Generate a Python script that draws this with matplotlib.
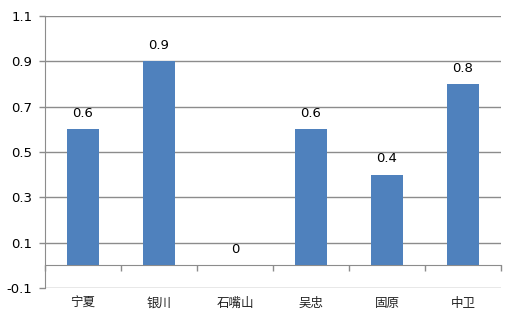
import matplotlib
matplotlib.use("Agg")
import matplotlib.pyplot as plt
import numpy as np

# data
categories = ["宁夏", "银川", "石嘴山", "吴忠", "固原", "中卫"]
values = [0.6, 0.9, 0, 0.6, 0.4, 0.8]
label_text = ["0.6", "0.9", "0", "0.6", "0.4", "0.8"]
y_ticks = [-0.1, 0.1, 0.3, 0.5, 0.7, 0.9, 1.1]
y_tick_labels = ["-0.1", "0.1", "0.3", "0.5", "0.7", "0.9", "1.1"]

plt.rcParams['font.family'] = ['DejaVu Sans', 'Noto Sans CJK SC']
bar_color = "#4F81BD"
grid_color = "#8C8C8C"

fig = plt.figure(figsize=(5.15, 3.24), dpi=100)
ax = fig.add_axes([45/515, 36/324, 456/515, 272/324])

x = np.arange(len(categories))
ax.bar(x, values, width=0.41, color=bar_color, zorder=3)

for xi, v, t in zip(x, values, label_text):
    ax.annotate(t, (xi, v), xytext=(0, 11.5), textcoords="offset points",
                ha="center", va="center", fontsize=9.5, color="black")

ax.set_xlim(-0.5, len(categories) - 0.5)
ax.set_ylim(-0.1, 1.1)
ax.set_yticks(y_ticks)
ax.set_yticklabels(y_tick_labels, fontsize=9.5)
ax.yaxis.grid(True, color=grid_color, linewidth=1)
ax.set_axisbelow(True)
ax.tick_params(axis="y", length=4, width=1, color=grid_color, pad=5)

# category axis sits at y = 0 with boundary ticks
ax.spines["bottom"].set_position(("data", 0))
ax.spines["bottom"].set_color(grid_color)
ax.set_xticks(np.arange(len(categories) + 1) - 0.5)
ax.set_xticklabels([])
ax.tick_params(axis="x", length=4, width=1, color=grid_color, direction="out")

ax.spines["left"].set_color(grid_color)
ax.spines["top"].set_visible(False)
ax.spines["right"].set_visible(False)

for xi, c in zip(x, categories):
    ax.annotate(c, (xi, -0.1), xytext=(0, -11), textcoords="offset points",
                ha="center", va="center", fontsize=9, color="#222222",
                family=["Noto Sans CJK SC", "DejaVu Sans"])

fig.savefig("out.png", dpi=100)
